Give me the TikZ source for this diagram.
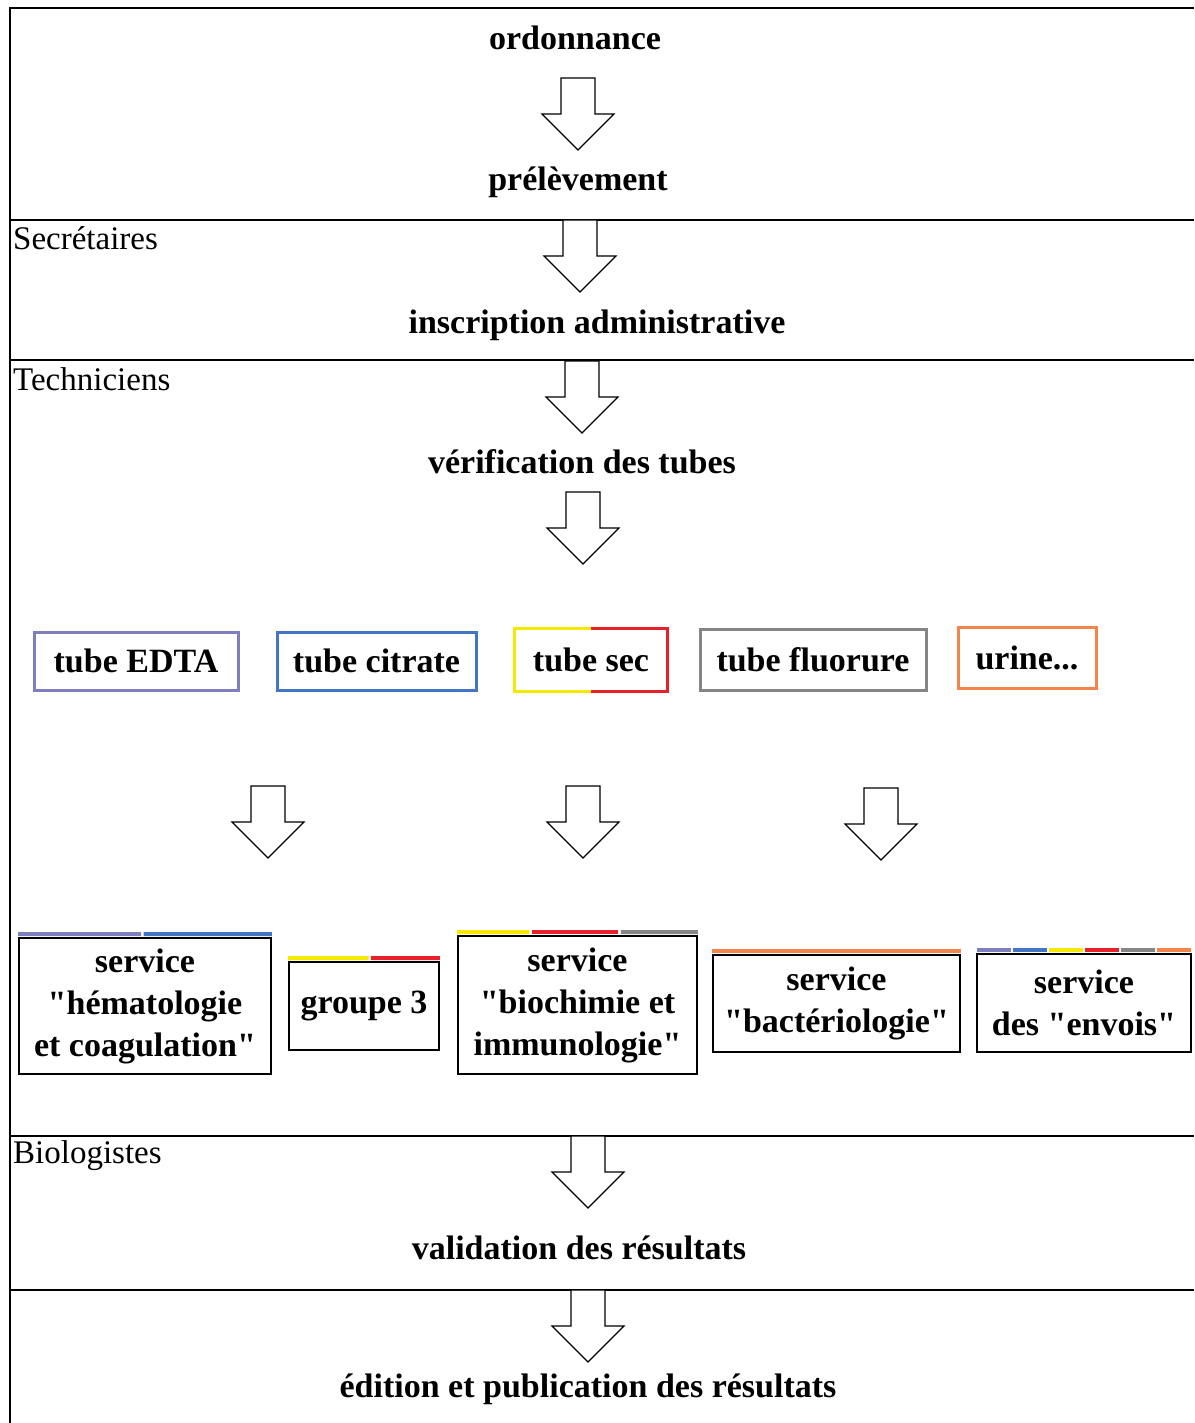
\documentclass[tikz,border=0pt]{standalone}
\usepackage{fontspec}
\setmainfont{Liberation Serif}
\usetikzlibrary{calc}
\definecolor{cpurple}{HTML}{7F7FC0}
\definecolor{cblue}{HTML}{4276C4}
\definecolor{cyellow}{HTML}{F6E800}
\definecolor{cred}{HTML}{E8202A}
\definecolor{cgray}{HTML}{858585}
\definecolor{corange}{HTML}{F5844A}
\newcommand\qq{\textquotedbl}
\newcommand\blockarrow[2]{%
  \draw[line width=1.2, fill=white] (#1-17,#2) -- (#1+17,#2) -- (#1+17,#2+36) -- (#1+36,#2+36)
    -- (#1,#2+72) -- (#1-36,#2+36) -- (#1-17,#2+36) -- cycle;}
\begin{document}
\begin{tikzpicture}[x=1pt,y=-1pt,
  step label/.style={font=\fontsize{34}{40}\selectfont\bfseries, inner sep=0pt},
  lane label/.style={font=\fontsize{33}{38}\selectfont, anchor=west, inner sep=0pt},
  tubebox/.style={font=\fontsize{34}{40}\selectfont\bfseries, line width=3, inner sep=0pt},
  servicebox/.style={font=\fontsize{34}{42}\selectfont\bfseries, draw=black, line width=1.8, inner sep=0pt, align=center},
  bar/.style={line width=4},
  lane/.style={line width=1.5}]
\useasboundingbox (0,0) rectangle (1194,1423);
% lanes
\draw[lane] (1194,8) -- (10,8) -- (10,1423);
\draw[lane] (10,220) -- (1194,220);
\draw[lane] (10,360) -- (1194,360);
\draw[lane] (10,1136) -- (1194,1136);
\draw[lane] (10,1290) -- (1194,1290);
\node[lane label] (sec) at (13,238) {Secrétaires};
\node[lane label] (tec) at (13,379) {Techniciens};
\node[lane label] (bio) at (13,1156) {Biologistes};
% steps
\node[step label] (ord) at (575,38) {ordonnance};
\node[step label] (pre) at (578,182) {prélèvement};
\node[step label] (ins) at (597,325) {inscription administrative};
\node[step label] (ver) at (582,462) {vérification des tubes};
\node[step label] (val) at (579,1248) {validation des résultats};
\node[step label] (edi) at (588,1389) {édition et publication des résultats};
% arrows
\blockarrow{578}{78}
\blockarrow{580}{220}
\blockarrow{582}{361}
\blockarrow{583}{492}
\blockarrow{268}{786}
\blockarrow{583}{786}
\blockarrow{881}{788}
\blockarrow{588}{1136}
\blockarrow{588}{1290}
% tubes
\node[tubebox, draw=cpurple, minimum width=204, minimum height=58] (edta) at (136,661) {tube EDTA};
\node[tubebox, draw=cblue, minimum width=199, minimum height=58] (cit) at (376.5,661) {tube citrate};
\node[tubebox, minimum width=150, minimum height=60] (tsec) at (591,660) {tube sec};
\draw[tubebox, cyellow] (tsec.north) -- (tsec.north west) -- (tsec.south west) -- (tsec.south);
\draw[tubebox, cred] (tsec.north) -- (tsec.north east) -- (tsec.south east) -- (tsec.south);
\node[tubebox, draw=cgray, minimum width=226, minimum height=61] (flu) at (813,659.5) {tube fluorure};
\node[tubebox, draw=corange, minimum width=138, minimum height=61] (uri) at (1027,657.5) {urine...};
% services
\node[servicebox, minimum width=252, minimum height=136] (s1) at (145,1006) {service\\\qq hématologie\\et coagulation\qq};
\node[servicebox, minimum width=150, minimum height=88] (s2) at (364,1006) {groupe 3};
\node[servicebox, minimum width=239, minimum height=138] (s3) at (577.5,1005) {service\\\qq biochimie et\\immunologie\qq};
\node[servicebox, minimum width=247, minimum height=97] (s4) at (836.5,1003.5) {service\\\qq bactériologie\qq};
\node[servicebox, minimum width=214, minimum height=98] (s5) at (1084,1003) {service\\des \qq envois\qq};
% colour bars
\draw[bar, cpurple] ($(s1.north west)+(0,-3)$) -- ($(s1.north west)!0.485!(s1.north east)+(0,-3)$);
\draw[bar, cblue] ($(s1.north west)!0.495!(s1.north east)+(0,-3)$) -- ($(s1.north east)+(0,-3)$);
\draw[bar, cyellow] ($(s2.north west)+(0,-3)$) -- ($(s2.north west)!0.53!(s2.north east)+(0,-3)$);
\draw[bar, cred] ($(s2.north west)!0.545!(s2.north east)+(0,-3)$) -- ($(s2.north east)+(0,-3)$);
\draw[bar, cyellow] ($(s3.north west)+(0,-3)$) -- ($(s3.north west)!0.30!(s3.north east)+(0,-3)$);
\draw[bar, cred] ($(s3.north west)!0.31!(s3.north east)+(0,-3)$) -- ($(s3.north west)!0.67!(s3.north east)+(0,-3)$);
\draw[bar, cgray] ($(s3.north west)!0.68!(s3.north east)+(0,-3)$) -- ($(s3.north east)+(0,-3)$);
\draw[bar, corange] ($(s4.north west)+(0,-3)$) -- ($(s4.north east)+(0,-3)$);
\foreach \c [count=\i from 0] in {cpurple,cblue,cyellow,cred,cgray,corange}{
  \draw[bar, \c] ($(s5.north west)!{\i/6+0.005}!(s5.north east)+(0,-3)$) -- ($(s5.north west)!{(\i+1)/6-0.005}!(s5.north east)+(0,-3)$);
}
\end{tikzpicture}
\end{document}
